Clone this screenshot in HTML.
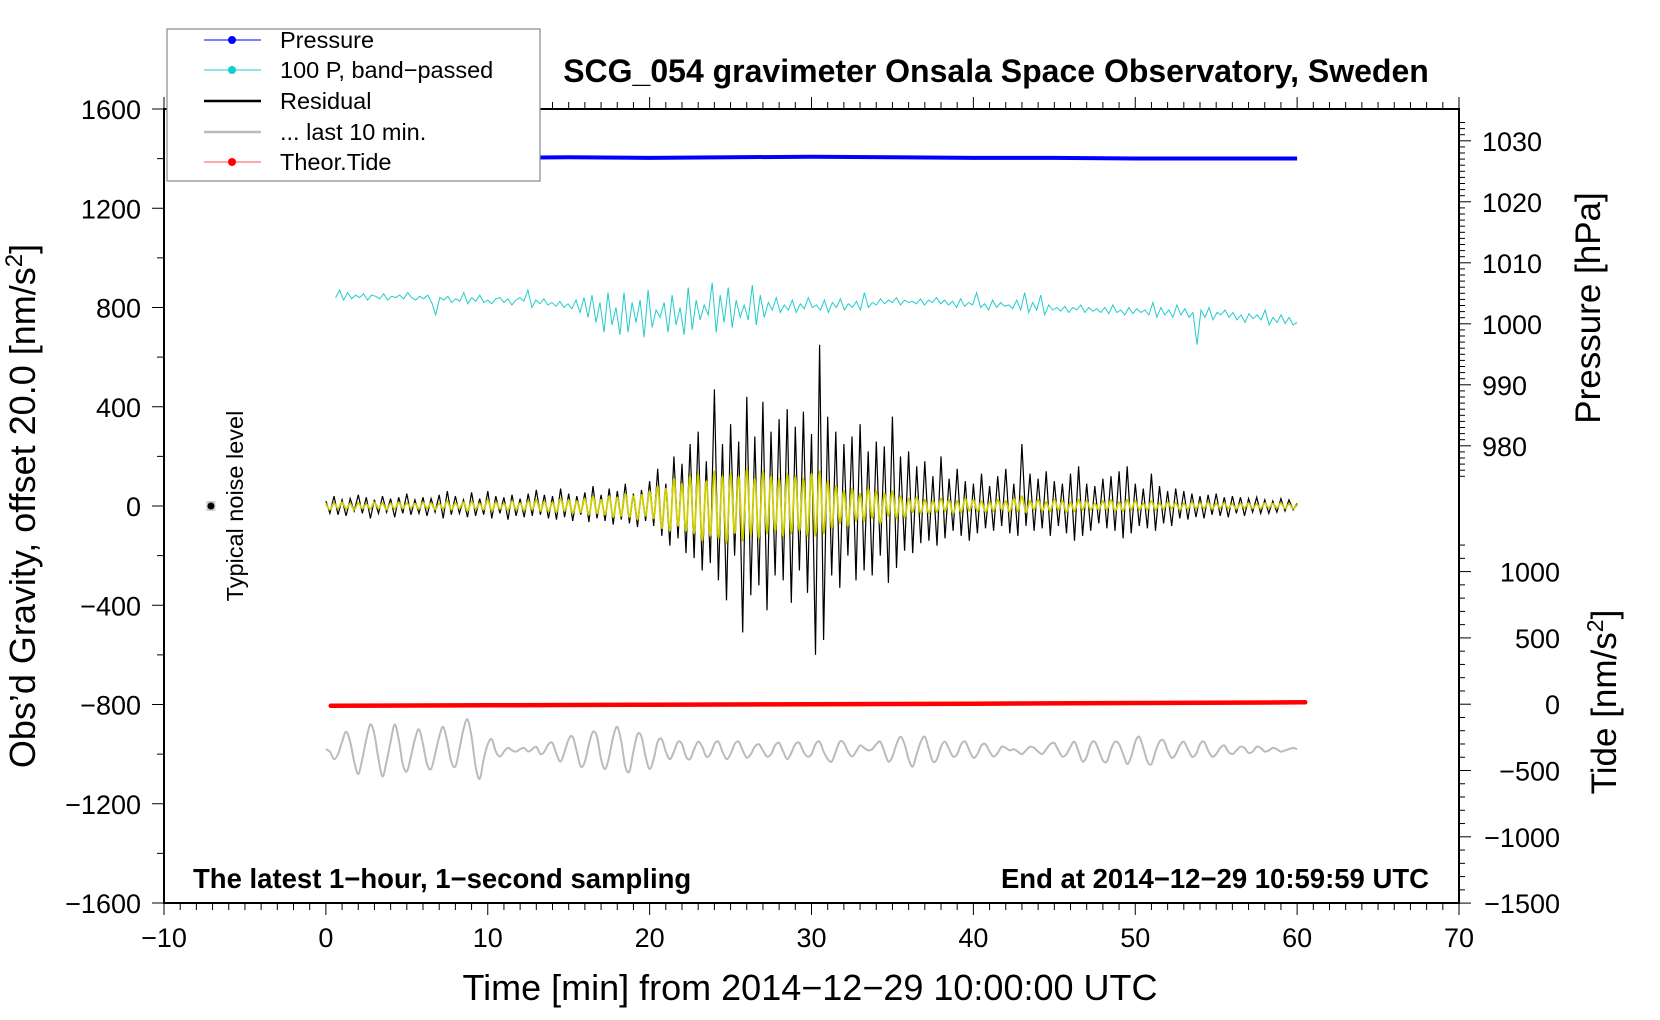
<!DOCTYPE html>
<html><head><meta charset="utf-8">
<style>
html,body{margin:0;padding:0;background:#fff;}
svg{display:block;font-family:"Liberation Sans",sans-serif;}
</style></head>
<body>
<svg id="chart" width="1660" height="1020" viewBox="0 0 1660 1020" xmlns="http://www.w3.org/2000/svg">
<rect x="0" y="0" width="1660" height="1020" fill="#fff"/>
<g id="series"></g>
<g id="axes"></g>
<text x="996" y="82" font-size="32" font-weight="bold" text-anchor="middle">SCG_054 gravimeter Onsala Space Observatory, Sweden</text>
<text x="193" y="888" font-size="27.5" font-weight="bold">The latest 1−hour, 1−second sampling</text>
<text x="1429" y="888" font-size="27.5" font-weight="bold" text-anchor="end">End at 2014−12−29 10:59:59 UTC</text>
<text x="810" y="1000" font-size="36" text-anchor="middle">Time [min] from 2014−12−29 10:00:00 UTC</text>
<text transform="translate(35,506) rotate(-90)" font-size="36" text-anchor="middle">Obs’d Gravity, offset 20.0 [nm/s<tspan dy="-13" font-size="24">2</tspan><tspan dy="13">]</tspan></text>
<text transform="translate(1600,308) rotate(-90)" font-size="35" text-anchor="middle">Pressure [hPa]</text>
<text transform="translate(1616,702) rotate(-90)" font-size="35" text-anchor="middle">Tide [nm/s<tspan dy="-13" font-size="23">2</tspan><tspan dy="13">]</tspan></text>
<text transform="translate(243,506) rotate(-90)" font-size="23.5" text-anchor="middle">Typical noise level</text>
<g id="legend">
<rect x="167" y="29" width="373" height="152" fill="#fff" stroke="#888" stroke-width="1.2"/>
<g><line x1="204" y1="40" x2="261" y2="40" stroke="#00f" stroke-width="1"/><circle cx="232" cy="40" r="4" fill="#00f"/><text x="280" y="48" font-size="23.5">Pressure</text></g>
<g><line x1="204" y1="70" x2="261" y2="70" stroke="#2cc" stroke-width="1"/><circle cx="232" cy="70" r="4" fill="#1cc"/><text x="280" y="78" font-size="23.5">100 P, band−passed</text></g>
<g><line x1="204" y1="101" x2="261" y2="101" stroke="#000" stroke-width="2.5"/><text x="280" y="109" font-size="23.5">Residual</text></g>
<g><line x1="204" y1="132" x2="261" y2="132" stroke="#bbb" stroke-width="2.5"/><text x="280" y="140" font-size="23.5">... last 10 min.</text></g>
<g><line x1="204" y1="162" x2="261" y2="162" stroke="#f55" stroke-width="1"/><circle cx="232" cy="162" r="4" fill="#f00"/><text x="280" y="170" font-size="23.5">Theor.Tide</text></g>
</g>
</svg>
<script>
const pressureTimes=[0,5,10,15,20,25,30,35,40,45,50,55,60];
const pressureVals=[1027.3,1027.2,1027.2,1027.3,1027.2,1027.3,1027.4,1027.3,1027.2,1027.2,1027.1,1027.1,1027.1];
const tideTimes=[0.3,10,20,30,40,50,60.5];
const tideVals=[-12,-8,-4,0,4,9,14];
const residualVals=[20,-30,40,-35,25,-40,30,-20,45,-30,35,-50,25,-30,40,-25,30,-45,35,-30,50,-35,25,-30,
35,-40,30,-25,45,-50,60,-35,40,-30,25,-45,55,-40,30,-35,60,-50,40,-30,35,-55,45,-40,
30,-45,50,-40,65,-35,45,-50,40,-55,70,-45,50,-60,40,-35,55,-65,80,-50,45,-60,70,-75,
60,-55,90,-70,50,-85,65,-60,100,-80,150,-120,90,-160,200,-130,170,-190,250,-210,300,-260,180,-230,
470,-300,250,-380,330,-200,260,-510,440,-360,280,-320,420,-420,300,-280,350,-300,390,-390,320,-260,380,-350,
290,-600,650,-540,360,-280,300,-330,250,-200,280,-300,330,-260,220,-280,260,-200,240,-310,360,-250,200,-180,
220,-190,160,-150,180,-140,120,-160,200,-130,110,-100,150,-120,100,-140,90,-110,130,-90,80,-100,120,-80,
150,-110,90,-120,250,-80,130,-100,110,-90,140,-120,100,-80,90,-110,130,-140,160,-120,90,-100,80,-70,
110,-90,120,-100,140,-130,160,-110,90,-80,70,-90,130,-100,80,-70,60,-80,70,-50,60,-55,50,-45,
40,-50,45,-35,50,-40,35,-45,40,-30,35,-40,30,-25,35,-30,25,-30,20,-25,30,-20,25,-15,10];
const filteredVals=[10,-15,12,-10,15,-12,10,-15,12,-10,8,-12,15,-10,12,-15,10,-12,15,-10,12,-8,10,-12,
15,-10,12,-15,10,-12,20,-15,12,-10,15,-20,18,-12,10,-15,25,-20,15,-12,10,-18,20,-15,
12,-18,20,-15,25,-20,18,-22,15,-25,30,-20,25,-30,20,-25,30,-35,40,-30,25,-35,40,-45,
35,-40,50,-45,40,-55,45,-40,60,-50,80,-90,70,-100,110,-80,90,-100,120,-110,130,-140,100,-120,
140,-130,120,-150,130,-110,120,-140,150,-120,110,-130,140,-110,120,-100,110,-120,130,-110,120,-100,110,-120,
130,-120,140,-110,100,-90,80,-70,60,-80,70,-60,50,-60,70,-50,60,-70,50,-40,60,-50,40,-45,
30,-25,35,-30,25,-30,20,-25,30,-20,25,-30,20,-25,30,-20,25,-20,20,-25,15,-20,25,-15,
20,-25,30,-20,40,-25,20,-15,25,-20,15,-20,25,-15,20,-25,15,-20,25,-15,20,-15,10,-15,
20,-15,25,-20,15,-20,25,-15,20,-15,10,-15,20,-15,10,-12,15,-10,12,-15,10,-12,15,-10,
12,-10,15,-12,10,-8,12,-10,8,-12,10,-8,12,-10,8,-10,12,-8,10,-8,12,-10,8,-10,5];
const bandVals=[840,870,830,860,835,850,840,855,830,850,845,835,855,830,845,840,850,835,860,840,830,845,835,850,
820,770,840,830,845,820,835,825,860,815,840,825,850,820,830,815,835,840,820,835,810,830,840,825,
870,800,830,815,835,810,820,805,825,800,815,795,830,780,840,760,850,740,820,700,860,730,800,690,
860,700,820,740,830,680,870,720,790,760,820,700,850,730,800,690,880,710,830,750,810,770,900,700,
850,740,880,720,830,760,810,750,890,730,850,760,820,790,840,780,810,790,830,780,815,795,840,800,
810,790,830,780,820,800,835,790,815,800,825,790,860,800,820,810,835,815,830,820,840,810,830,820,
825,815,835,810,830,820,840,815,830,810,825,800,835,805,820,810,860,800,815,790,830,800,820,805,
810,795,830,790,860,780,820,790,850,770,810,790,800,785,805,780,800,790,810,780,800,785,795,780,
800,775,810,780,790,770,800,775,795,780,790,770,820,760,800,770,790,760,810,770,795,760,780,650,
790,760,800,750,780,770,790,760,780,750,770,740,775,755,770,750,790,730,760,740,770,735,760,730,740];
const last10Vals=[-980,-990,-1020,-1000,-950,-910,-950,-1030,-1080,-1020,-940,-880,-920,-1020,-1090,-1030,-950,-880,-940,-1040,-1070,-1010,-940,-900,
-960,-1040,-1060,-1000,-930,-890,-950,-1030,-1050,-980,-900,-860,-930,-1050,-1100,-1020,-960,-940,-990,-1010,-990,-975,-985,-990,
-980,-975,-990,-980,-970,-1000,-990,-960,-955,-1000,-1030,-990,-940,-930,-990,-1050,-1030,-960,-910,-930,-1020,-1060,-1010,-930,
-890,-950,-1050,-1070,-990,-920,-930,-1010,-1060,-1020,-950,-940,-990,-1020,-990,-950,-960,-1010,-1020,-980,-950,-970,-1010,-1000,
-960,-950,-990,-1020,-1000,-960,-950,-985,-1015,-1000,-970,-960,-985,-1010,-1000,-965,-955,-990,-1020,-995,-960,-955,-990,-1010,
-1000,-960,-950,-990,-1020,-1030,-990,-950,-955,-990,-1010,-990,-965,-975,-985,-980,-960,-950,-990,-1030,-1010,-960,-930,-960,
-1020,-1050,-1000,-950,-930,-980,-1030,-1020,-970,-950,-980,-1010,-1000,-960,-950,-985,-1015,-1000,-965,-960,-990,-1010,-995,-970,
-975,-985,-980,-990,-1000,-985,-970,-975,-990,-1000,-980,-960,-955,-985,-1010,-1000,-970,-950,-990,-1030,-1010,-960,-950,-985,
-1025,-1030,-980,-950,-960,-1000,-1040,-1010,-950,-930,-975,-1030,-1040,-990,-950,-945,-985,-1015,-1000,-965,-950,-980,-1010,-1000,
-960,-950,-985,-1010,-1000,-975,-965,-990,-1000,-985,-970,-975,-995,-990,-970,-975,-990,-985,-975,-980,-990,-985,-980,-975,-980];
const xTicks=[-10,0,10,20,30,40,50,60,70];
const yTicks=[1600,1200,800,400,0,-400,-800,-1200,-1600];
const pTicks=[1030,1020,1010,1000,990,980];
const tTicks=[1000,500,0,-500,-1000,-1500];
const noiseLevel=[-7.1,0,20];

const NS='http://www.w3.org/2000/svg';
const L=164,R=1459,T=109,B=903;
const X=t=>L+(t+10)*(R-L)/80;
const Y=v=>T+(1600-v)*(B-T)/3200;
const P=p=>140.8+(1030-p)*6.1;
const TD=v=>704.2-v*0.1326;
const sg=document.getElementById('series'), ax=document.getElementById('axes');
function mk(tag,attrs,parent){const e=document.createElementNS(NS,tag);for(const k in attrs)e.setAttribute(k,attrs[k]);parent.appendChild(e);return e;}
function stepPath(vals,t0,dt,fy){return vals.map((v,i)=>(i?'L':'M')+X(t0+i*dt).toFixed(1)+' '+fy(v).toFixed(1)).join(' ');}
function smoothPath(vals,t0,dt,fy){
 const pts=vals.map((v,i)=>[X(t0+i*dt),fy(v)]);
 let d='M'+pts[0][0].toFixed(1)+' '+pts[0][1].toFixed(1);
 for(let i=0;i<pts.length-1;i++){const p0=pts[Math.max(0,i-1)],p1=pts[i],p2=pts[i+1],p3=pts[Math.min(pts.length-1,i+2)];
  d+=' C'+(p1[0]+(p2[0]-p0[0])/6).toFixed(1)+' '+(p1[1]+(p2[1]-p0[1])/6).toFixed(1)+' '+(p2[0]-(p3[0]-p1[0])/6).toFixed(1)+' '+(p2[1]-(p3[1]-p1[1])/6).toFixed(1)+' '+p2[0].toFixed(1)+' '+p2[1].toFixed(1);}
 return d;}

let e;
e=mk('path',{d:smoothPath(last10Vals,0,0.25,Y),fill:'none',stroke:'#bbb','stroke-width':2},sg);


e=mk('path',{d:stepPath(bandVals,0.6,(60-0.6)/(bandVals.length-1),Y),fill:'none',stroke:'#2cc','stroke-width':1},sg);


e=mk('path',{d:stepPath(residualVals,0,0.25,Y),fill:'none',stroke:'#000','stroke-width':1.2},sg);


e=mk('path',{d:smoothPath(filteredVals,0,0.25,Y),fill:'none',stroke:'#cc0','stroke-width':1.8},sg);


e=mk('path',{d:pressureVals.map((v,i)=>(i?'L':'M')+X(pressureTimes[i]).toFixed(1)+' '+P(v).toFixed(1)).join(' '),fill:'none',stroke:'#00f','stroke-width':4},sg);


e=mk('path',{d:tideVals.map((v,i)=>(i?'L':'M')+X(tideTimes[i]).toFixed(1)+' '+TD(v).toFixed(1)).join(' '),fill:'none',stroke:'#f00','stroke-width':4.5,'stroke-linecap':'round'},sg);


e=mk('line',{x1:X(noiseLevel[0]),x2:X(noiseLevel[0]),y1:Y(noiseLevel[1]+noiseLevel[2]),y2:Y(noiseLevel[1]-noiseLevel[2]),stroke:'#ccc','stroke-width':9},sg);


e=mk('circle',{cx:X(noiseLevel[0]),cy:Y(noiseLevel[1]),r:3.5,fill:'#000'},sg);



e=mk('rect',{x:L,y:T,width:R-L,height:B-T,fill:'none',stroke:'#000','stroke-width':2},ax);


for(let t=-10;t<=70;t++){const maj=t%10===0;
 mk('line',{x1:X(t),x2:X(t),y1:B,y2:B+(maj?12:7),stroke:'#000','stroke-width':1},ax);
 mk('line',{x1:X(t),x2:X(t),y1:T,y2:T-(maj?12:7),stroke:'#000','stroke-width':1},ax);}
xTicks.forEach(t=>{const tx=mk('text',{x:X(t),y:947,'font-size':27,'text-anchor':'middle'},ax);tx.textContent=String(t).replace('-','−');
 
 });
for(let v=-1600;v<=1600;v+=200){mk('line',{x1:L,x2:L-(v%400===0?12:7),y1:Y(v),y2:Y(v),stroke:'#000','stroke-width':1},ax);}
yTicks.forEach(v=>{const tx=mk('text',{x:141,y:Y(v)+10,'font-size':27,'text-anchor':'end'},ax);tx.textContent=String(v).replace('-','−');
 
 });
for(let p=1033;p>=975;p--){mk('line',{x1:R,x2:R+(p%10===0?12:6),y1:P(p),y2:P(p),stroke:'#000','stroke-width':1},ax);}
pTicks.forEach(p=>{const tx=mk('text',{x:1482,y:P(p)+10,'font-size':27},ax);tx.textContent=String(p);
 
 });
for(let v=-1500;v<=1200;v+=100){mk('line',{x1:R,x2:R+(v%500===0?12:6),y1:TD(v),y2:TD(v),stroke:'#000','stroke-width':1},ax);}
tTicks.forEach(v=>{const tx=mk('text',{x:1560,y:TD(v)+10,'font-size':27,'text-anchor':'end'},ax);tx.textContent=String(v).replace('-','−');
 
 });
</script>
</body></html>
